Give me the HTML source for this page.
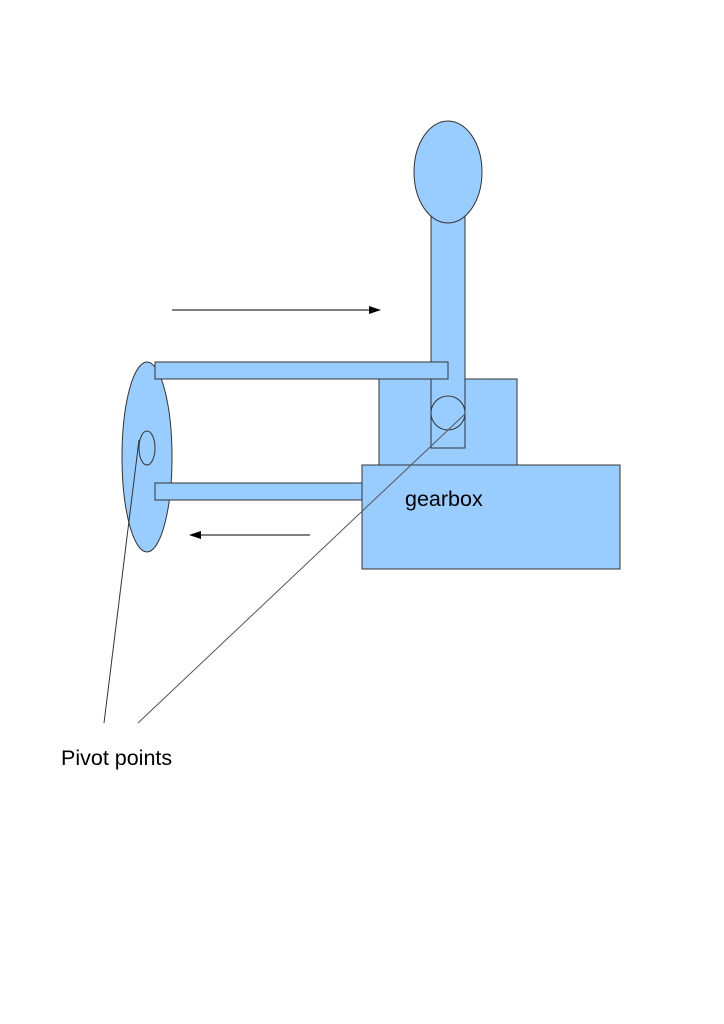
<!DOCTYPE html>
<html><head><style>body{margin:0;background:#fff}</style></head><body>
<svg width="724" height="1024" xmlns="http://www.w3.org/2000/svg" style="display:block">
<defs><marker id="a" markerWidth="12" markerHeight="8" refX="11" refY="4" orient="auto" markerUnits="userSpaceOnUse"><path d="M0,0 L12,4 L0,8 z" fill="#000"/></marker></defs>
<g fill="#99ccff" stroke="#333" stroke-width="1">
<ellipse cx="147" cy="457" rx="25" ry="95"/>
<ellipse cx="147" cy="448" rx="8" ry="17"/>
<rect x="379" y="379" width="138" height="86"/>
<rect x="431" y="215" width="34" height="233"/>
<ellipse cx="448" cy="172" rx="34" ry="51"/>
<rect x="155" y="362" width="293" height="17"/>
<rect x="155" y="483" width="207" height="17"/>
<rect x="362" y="465" width="258" height="104"/>
<circle cx="448" cy="413" r="17" fill="none"/>
</g>
<line x1="104" y1="723" x2="139" y2="440" stroke="#333"/>
<line x1="138" y1="723" x2="465" y2="414" stroke="#555"/>
<line x1="172" y1="310" x2="380" y2="310" stroke="#000" marker-end="url(#a)"/>
<line x1="310" y1="535" x2="190" y2="535" stroke="#000" marker-end="url(#a)"/>
<text x="405" y="506" font-family="Liberation Sans, sans-serif" font-size="21.5">gearbox</text>
<text x="61" y="765" font-family="Liberation Sans, sans-serif" font-size="21.5">Pivot points</text>
</svg>
</body></html>
